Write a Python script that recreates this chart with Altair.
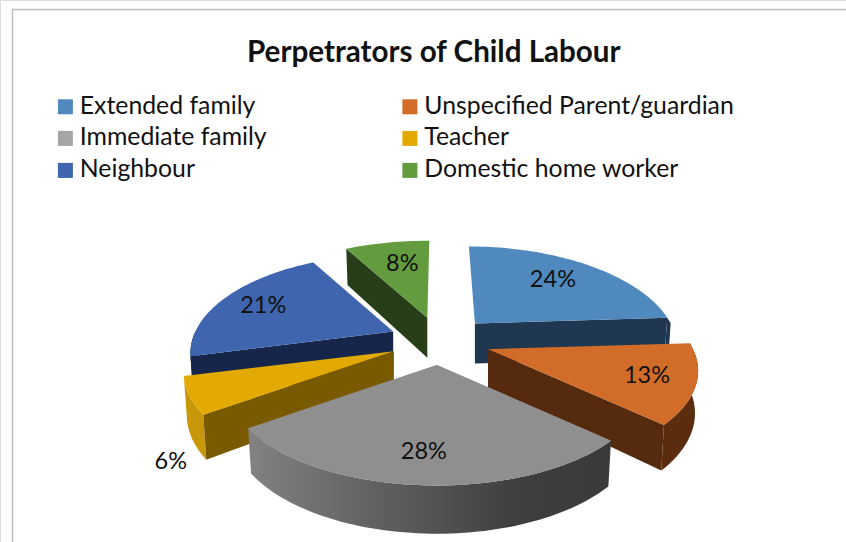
import math
import altair as alt

# Chart content
title_text = "Perpetrators of Child Labour"
categories = ["Extended family", "Unspecified Parent/guardian", "Immediate family",
              "Teacher", "Neighbour", "Domestic home worker"]
shares = [24, 13, 28, 6, 21, 8]
top_colors = ["#4F89BD", "#D16D28", "#A5A5A5", "#E2A900", "#3E65AE", "#629C3E"]
wall_colors = ["#1F3750", "#552A0E", "#555555", "#7A5A00", "#15264A", "#283E18"]
rim_colors = ["#1F3750", "#5A2D0F", "#555555", "#C8980A", "#15264A", "#283E18"]

# Projection of the tilted pie onto the page
CX, CY = 440.0, 341.0
RX, RY = 205.0, 94.0
PERSPECTIVE = 0.22
EXPLODE_X, EXPLODE_Y = 51.0, 24.0
DEPTH = 41.0
DEPTH_APEX = 40.0

# Per-slice trim of the horizontal radius, and sideways lean of the far rim
radius_trim = [0.955, 1.0, 0.99, 1.0, 0.965, 1.0]
rim_lean = [-6.0, 0.0, 0.0, 0.0, 0.0, 2.0]
# Percent label anchors as page offsets around each apex
label_offsets = [(78, -44), (159, 27), (-13, 87), (-223, 111), (-130, -25), (-25, -54)]


def scale_at(z):
    return 1.0 / (1.0 + PERSPECTIVE * z)


def slice_geometry(name):
    start, end = bounds[name]
    index = categories.index(name)
    trim = radius_trim[index]
    lean = rim_lean[index]
    mid = math.radians((start + end) / 2)
    ax = CX + EXPLODE_X * math.sin(mid)
    ay = CY - EXPLODE_Y * math.cos(mid)

    def top(deg):
        t = math.radians(deg)
        z = math.cos(t)
        s = scale_at(z)
        return [ax + trim * RX * math.sin(t) * s + lean * z, ay - RY * z * s]

    def bottom(deg):
        t = math.radians(deg)
        z = math.cos(t)
        s = scale_at(z)
        return [ax + 0.985 * trim * RX * math.sin(t) * s + lean * z,
                ay - RY * z * s + DEPTH / (1 + 0.15 * z)]

    return (ax, ay), top, bottom


def span(a, b, step=1.5):
    n = max(2, int(abs(b - a) / step) + 1)
    return [a + (b - a) * i / (n - 1) for i in range(n)]


def polygon(points, category):
    ring = [list(p) for p in points] + [list(points[0])]
    return {"type": "Feature",
            "properties": {"category": category},
            "geometry": {"type": "Polygon", "coordinates": [ring]}}


def geo_layer(feature, **mark):
    return alt.Chart(alt.Data(values=[feature])).mark_geoshape(strokeWidth=0, **mark).project(
        type="identity", scale=1, translate=[0, 0])


# Turn the shares into start and end angles, clockwise from twelve o'clock
bounds = {}
running = 0.0
for name, value in zip(categories, shares):
    bounds[name] = (running * 3.6, (running + value) * 3.6)
    running += value

color_scale = alt.Scale(domain=categories, range=top_colors)
legend = alt.Legend(
    title=None, orient="none", legendX=53, legendY=94, columns=2, direction="horizontal",
    symbolType="square", symbolSize=225, symbolStrokeWidth=0,
    labelFont="Lato", labelFontSize=24.8, labelColor="#111111",
    labelLimit=400, labelOffset=2, rowPadding=6, columnPadding=130.5, padding=0,
)


def wall(name, deg, color):
    (ax, ay), top, bottom = slice_geometry(name)
    pts = [[ax, ay], top(deg), bottom(deg), [ax, ay + DEPTH_APEX]]
    return geo_layer(polygon(pts, name), fill=color)


def rim(name, a, b, **mark):
    _, top, bottom = slice_geometry(name)
    pts = [top(d) for d in span(a, b)] + [bottom(d) for d in span(b, a)]
    return geo_layer(polygon(pts, name), **mark)


def top_face(name):
    (ax, ay), top, _ = slice_geometry(name)
    return [[ax, ay]] + [top(d) for d in span(*bounds[name])]


def top_layer(name):
    return geo_layer(polygon(top_face(name), name)).encode(
        color=alt.Color("properties.category:N", scale=color_scale, legend=legend))


grey_gradient = alt.Gradient(
    gradient="linear", x1=0, x2=1, y1=0, y2=0,
    stops=[alt.GradientStop(color="#828282", offset=0),
           alt.GradientStop(color="#5C5C5C", offset=0.4),
           alt.GradientStop(color="#3E3E3E", offset=0.75),
           alt.GradientStop(color="#3A3A3A", offset=1)],
)

ext, par, imm, tea, nei, dom = categories
layers = [
    # Back to front, so nearer slices cover the walls behind them
    wall(dom, bounds[dom][0], wall_colors[5]),
    top_layer(dom),
    wall(ext, bounds[ext][1], wall_colors[0]),
    rim(ext, bounds[ext][1], 90, fill=rim_colors[0]),
    top_layer(ext),
    wall(nei, bounds[nei][0], wall_colors[4]),
    rim(nei, bounds[nei][0], 270, fill=rim_colors[4]),
    top_layer(nei),
    rim(tea, *bounds[tea], fill=rim_colors[3]),
    wall(tea, bounds[tea][0], wall_colors[3]),
    top_layer(tea),
    rim(par, *bounds[par], fill=rim_colors[1]),
    wall(par, bounds[par][1], wall_colors[1]),
    top_layer(par),
    rim(imm, *bounds[imm], fill=grey_gradient),
    top_layer(imm),
    geo_layer(polygon(top_face(imm), imm), fill="#8F8F8F"),
]

# Percent labels, placed relative to the apex of their slice
label_rows = []
for name, value, (dx, dy) in zip(categories, shares, label_offsets):
    (ax, ay), _, _ = slice_geometry(name)
    label_rows.append({"lon": ax + dx, "lat": ay + dy, "text": f"{value}%"})

labels = alt.Chart(alt.Data(values=label_rows)).mark_text(
    font="Lato", fontSize=23.5, color="#111111", align="center", baseline="middle"
).encode(longitude="lon:Q", latitude="lat:Q", text="text:N").project(
    type="identity", scale=1, translate=[0, 0])

# Chart frame: only the top and left edges fall inside the page
frame_top = alt.Chart(alt.Data(values=[{}])).mark_rule(color="#BDBDBD", strokeWidth=1.5).encode(
    x=alt.value(12), x2=alt.value(846), y=alt.value(9.5))
frame_left = alt.Chart(alt.Data(values=[{}])).mark_rule(color="#BDBDBD", strokeWidth=1.5).encode(
    x=alt.value(12.5), y=alt.value(9), y2=alt.value(542))

chart = alt.layer(frame_top, frame_left, *layers, labels).properties(
    width=846, height=542, padding=0,
    autosize=alt.AutoSizeParams(type="none"),
    title=alt.TitleParams(title_text, font="Lato", fontSize=29.6, fontWeight="bold", color="#111111",
                          anchor="start", frame="group", dx=247, dy=73),
).configure_view(stroke=None).configure(background="white")

chart.save("out.html", embed_options={"renderer": "svg", "actions": False})
